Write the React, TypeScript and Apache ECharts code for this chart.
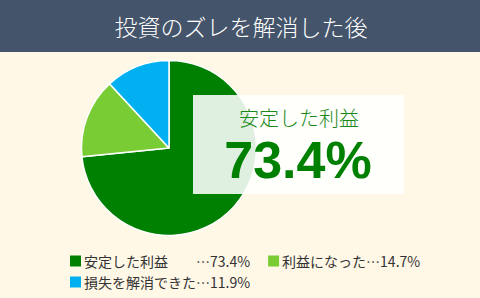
import React, { useEffect, useRef } from "react";
import * as echarts from "echarts";

const titleText = "投資のズレを解消した後";
const categories = ["安定した利益", "利益になった", "損失を解消できた"];
const values = [73.4, 14.7, 11.9];
const legendPads = ["　　", "", ""];
const colors = ["#008000", "#7ACC34", "#00B0F0"];
const highlightLabel = "安定した利益";
const highlightValue = "73.4%";

export default function App() {
  const ref = useRef<HTMLDivElement>(null);
  useEffect(() => {
    if (!ref.current) return;
    const chart = echarts.init(ref.current, undefined, { renderer: "svg" });
    const font = "'Noto Sans CJK JP', 'Noto Sans', sans-serif";
    const legendBase = {
      left: 65,
      orient: "horizontal" as const,
      icon: "rect",
      itemWidth: 11,
      itemHeight: 11,
      itemGap: 18,
      selectedMode: false,
      itemStyle: { borderWidth: 0 },
      textStyle: { fontSize: 14, color: "#333", fontFamily: font, padding: [0, 0, 0, -2] },
      formatter: (name: string) => {
        const i = categories.indexOf(name);
        return name + legendPads[i] + "…" + values[i] + "%";
      },
    };
    chart.setOption({
      animation: false,
      backgroundColor: "#FFF8E7",
      legend: [
        { ...legendBase, top: 249, data: categories.slice(0, 2) },
        { ...legendBase, top: 270, data: categories.slice(2) },
      ],
      series: [
        {
          type: "pie",
          center: [169, 148],
          radius: 87.5,
          startAngle: 90,
          clockwise: true,
          silent: true,
          label: { show: false },
          labelLine: { show: false },
          itemStyle: { borderColor: "#fff", borderWidth: 1.5 },
          data: categories.map((c, i) => ({
            name: c,
            value: values[i],
            itemStyle: { color: colors[i] },
          })),
        },
      ],
      graphic: [
        {
          type: "rect",
          shape: { x: 0, y: 0, width: 480, height: 52 },
          style: { fill: "#44546A" },
          z: 10,
        },
        {
          type: "text",
          x: 241,
          y: 26,
          z: 11,
          style: {
            text: titleText,
            fill: "#fff",
            fontSize: 23,
            fontWeight: 300,
            fontFamily: font,
            textAlign: "center",
            textVerticalAlign: "middle",
          },
        },
        {
          type: "rect",
          shape: { x: 193, y: 95, width: 211, height: 99 },
          style: { fill: "rgba(255,255,255,0.88)" },
          z: 10,
        },
        {
          type: "text",
          x: 299,
          y: 117,
          z: 11,
          style: {
            text: highlightLabel,
            fill: "#1A881A",
            fontSize: 20,
            fontWeight: 300,
            fontFamily: font,
            textAlign: "center",
            textVerticalAlign: "middle",
          },
        },
        {
          type: "text",
          x: 298,
          y: 160,
          z: 11,
          style: {
            text: highlightValue,
            fill: "#008000",
            fontSize: 52,
            fontWeight: "bold",
            fontFamily: "'Liberation Sans', Arial, sans-serif",
            textAlign: "center",
            textVerticalAlign: "middle",
          },
        },
      ],
    });
    return () => chart.dispose();
  }, []);
  return (
    <div
      ref={ref}
      style={{ position: "fixed", left: 0, top: 0, width: 480, height: 298 }}
    />
  );
}
